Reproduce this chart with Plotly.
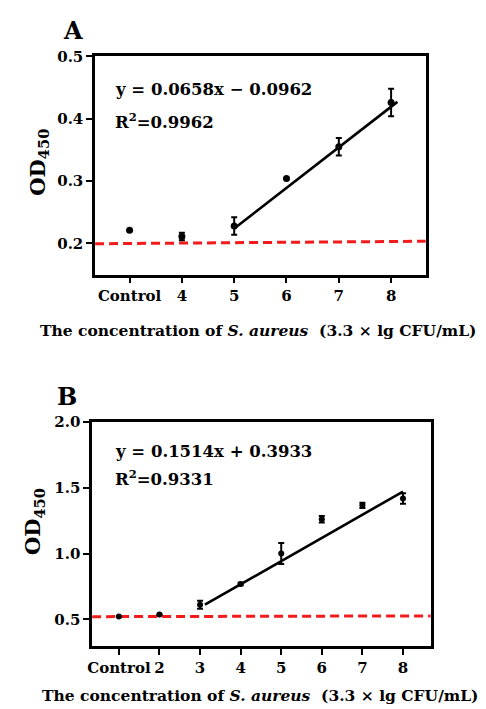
import plotly.graph_objects as go

W, H = 486, 709

# ---------------- Panel A data ----------------
a_labels = ["Control", "4", "5", "6", "7", "8"]
a_x = [3, 4, 5, 6, 7, 8]
a_y = [0.221, 0.211, 0.228, 0.304, 0.355, 0.426]
a_err = [0.0, 0.006, 0.014, 0.0, 0.014, 0.022]
a_fit_x = [5.0, 8.12]
a_fit_y = [0.224, 0.427]
a_base_x = [2.34, 8.75]
a_base_y = [0.1995, 0.2035]
a_yticks = [0.2, 0.3, 0.4, 0.5]
a_eq = "y = 0.0658x − 0.0962"
a_r2 = "R<sup>2</sup>=0.9962"

# ---------------- Panel B data ----------------
b_labels = ["Control", "2", "3", "4", "5", "6", "7", "8"]
b_x = [1, 2, 3, 4, 5, 6, 7, 8]
b_y = [0.522, 0.537, 0.612, 0.769, 1.0, 1.26, 1.366, 1.418]
b_err = [0.0, 0.0, 0.03, 0.01, 0.08, 0.025, 0.02, 0.04]
b_fit_x = [3.12, 8.0]
b_fit_y = [0.612, 1.47]
b_base_x = [0.34, 8.75]
b_base_y = [0.521, 0.527]
b_yticks = [0.5, 1.0, 1.5, 2.0]
b_eq = "y = 0.1514x + 0.3933"
b_r2 = "R<sup>2</sup>=0.9331"

FONT = "DejaVu Serif"
xtitle = "The concentration of <i>S. aureus</i>\u00a0\u00a0(3.3 × lg CFU/mL)"

fig = go.Figure()

def add_panel(xs, ys, errs, fx, fy, bx, by, msize, xa, ya):
    fig.add_trace(go.Scatter(x=bx, y=by, mode="lines", xaxis=xa, yaxis=ya,
                             line=dict(color="#f21a1a", width=3, dash="9px,5px"),
                             showlegend=False, hoverinfo="skip"))
    fig.add_trace(go.Scatter(x=fx, y=fy, mode="lines", xaxis=xa, yaxis=ya,
                             line=dict(color="black", width=2.6),
                             showlegend=False, hoverinfo="skip"))
    fig.add_trace(go.Scatter(x=xs, y=ys, mode="markers", xaxis=xa, yaxis=ya,
                             marker=dict(color="black", size=msize),
                             error_y=dict(type="data", array=errs, visible=True,
                                          color="black", thickness=2, width=3),
                             showlegend=False, cliponaxis=False))

add_panel(a_x, a_y, a_err, a_fit_x, a_fit_y, a_base_x, a_base_y, 7, "x", "y")
add_panel(b_x, b_y, b_err, b_fit_x, b_fit_y, b_base_x, b_base_y, 6, "x2", "y2")

def px(x):
    return x / W

def py(y):
    return 1 - y / H

axis_common = dict(showline=True, linecolor="black", linewidth=2.5, mirror=True,
                   ticks="outside", ticklen=6, tickwidth=2, tickcolor="black",
                   showgrid=False, zeroline=False, tickangle=0,
                   tickfont=dict(family=FONT, size=15, color="black", weight="bold"))

fig.update_layout(
    width=W, height=H, margin=dict(l=0, r=0, t=0, b=0),
    paper_bgcolor="white", plot_bgcolor="white",
    xaxis=dict(domain=[px(91), px(425)], range=[2.34, 8.66], anchor="y",
               tickvals=a_x, ticktext=a_labels, **axis_common),
    yaxis=dict(domain=[py(269), py(48)], range=[0.15, 0.5], anchor="x",
               tickvals=a_yticks, ticktext=[f"{v:.1f}" for v in a_yticks], **axis_common),
    xaxis2=dict(domain=[px(88), px(430)], range=[0.34, 8.68], anchor="y2",
                tickvals=b_x, ticktext=b_labels, **axis_common),
    yaxis2=dict(domain=[py(645), py(418)], range=[0.3, 2.0], anchor="x2",
                tickvals=b_yticks, ticktext=[f"{v:.1f}" for v in b_yticks], **axis_common),
)

def ann(text, x, y, size, angle=0, xanchor="center"):
    fig.add_annotation(text=text, x=px(x), y=py(y), xref="paper", yref="paper",
                       showarrow=False, textangle=angle, xanchor=xanchor, yanchor="middle",
                       font=dict(family=FONT, size=size, color="black", weight="bold"))

# Panel labels
ann("A", 69, 22, 24)
ann("B", 63, 392, 24)
# Y titles
ann("OD<sub>450</sub>", 33, 155, 21, angle=-90)
ann("OD<sub>450</sub>", 29, 519, 21, angle=-90)
# X titles
ann(xtitle, 256, 326, 15.5)
ann(xtitle, 258, 695, 15.5)
# Equations
ann(a_eq, 109, 82, 16.5, xanchor="left")
ann(a_r2, 109, 113, 16.5, xanchor="left")
ann(b_eq, 109, 448, 16.5, xanchor="left")
ann(b_r2, 109, 475, 16.5, xanchor="left")

fig.write_html("out.html")
